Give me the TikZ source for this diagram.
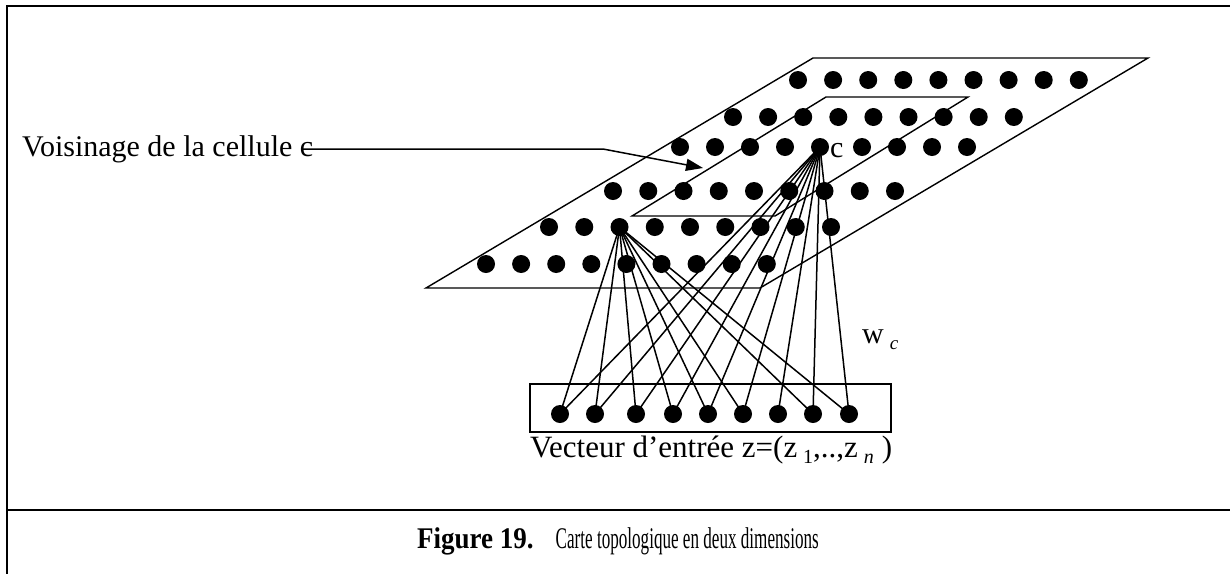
\documentclass[tikz,border=0pt]{standalone}
\usepackage{fontspec}
\setmainfont{Liberation Serif}
\usetikzlibrary{arrows.meta}
\begin{document}
\begin{tikzpicture}[x=1pt,y=-1pt,
  dot/.style={circle,fill=black,inner sep=0pt,minimum size=18pt},
  edge/.style={line width=1.4pt,line join=miter},
  link/.style={line width=1.5pt},
  lbl/.style={inner sep=0pt,font=\fontsize{30}{34}\selectfont}]
\useasboundingbox (0,0) rectangle (1230,574);
% frame
\draw[line width=2pt] (1230,6) -- (7,6) -- (7,574);
\draw[line width=1.8pt] (7,510) -- (1230,510);
% outer map
\coordinate (o1) at (426,288); \coordinate (o2) at (760,288);
\coordinate (o3) at (1148,58); \coordinate (o4) at (813,58);
\draw[edge] (o1) -- (o2) -- (o3) -- (o4) -- cycle;
% neighbourhood
\coordinate (n1) at (632,216); \coordinate (n2) at (775,216);
\coordinate (n3) at (968,97); \coordinate (n4) at (826,97);
\draw[edge] (n1) -- (n2) -- (n3) -- (n4) -- cycle;
% grid
\foreach \i in {0,...,8}{
  \node[dot] (ra\i) at ({798+35.1*\i},80) {};
  \node[dot] (rb\i) at ({733+35.1*\i},117) {};
  \node[dot] (rd\i) at ({613+35.25*\i},191) {};
  \node[dot] (re\i) at ({549+35.25*\i},227) {};
  \node[dot] (rf\i) at ({486+35.1*\i},264) {};
}
\foreach \x [count=\k] in {680,715,750,785,820,862,897,932,967}
  \node[dot] (rc\k) at (\x,147) {};
\node[lbl,anchor=base west] (clab) at (830,157) {c};
% input vector
\node[draw,line width=1.4pt,minimum width=361pt,minimum height=48pt,inner sep=0pt] (box) at (710.5,408) {};
\foreach \x [count=\k] in {560,595,636,673,708,743,778,813,849}
  \node[dot] (b\k) at (\x,414) {};
% links
\foreach \k in {1,2,3,4,5,6,8,9}
  \draw[link] (re2.center) -- (b\k.center);
\foreach \k in {1,...,9}
  \draw[link] (rc5.center) -- (b\k.center);
\node[lbl,anchor=base west] (wlab) at (862,343) {w\hspace{6pt}\raisebox{-6pt}{\fontsize{19}{22}\selectfont\itshape c}};
% labels
\node[lbl,anchor=base west] (vlab) at (22,156) {Voisinage de la cellule c};
\coordinate (bend) at (603,149);
\draw[link,-{Triangle[length=17pt,width=12pt]}] (302,149) -- (bend) -- (703,168);
\node[lbl,anchor=base west,font=\fontsize{31}{34}\selectfont] (zlab) at (530,457) {Vecteur d’entrée z=(z\hspace{6pt}\raisebox{-6pt}{\fontsize{20}{22}\selectfont 1},..,z\hspace{6pt}\raisebox{-6pt}{\fontsize{20}{22}\selectfont\itshape n}\hspace{8pt})};
\node[lbl,anchor=base west] (cap) at (417,548) {\scalebox{0.9}[1]{\textbf{Figure 19.}}\hspace{22pt}\scalebox{0.57}[1]{Carte topologique en deux dimensions}};
\end{tikzpicture}
\end{document}
